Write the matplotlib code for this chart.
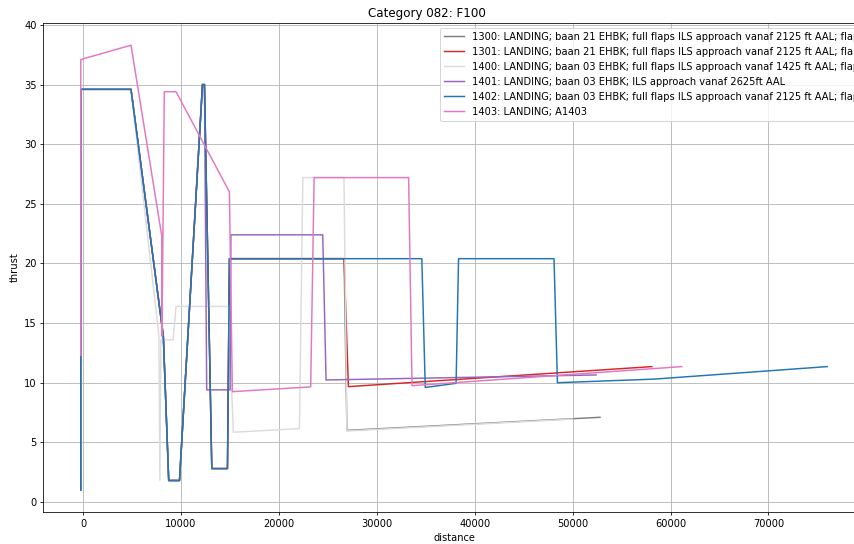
import matplotlib
matplotlib.use("Agg")
import matplotlib.pyplot as plt

# distance / thrust profiles per procedure
labels = [
    "1300: LANDING; baan 21 EHBK; full flaps ILS approach vanaf 2125 ft AAL; flaps",
    "1301: LANDING; baan 21 EHBK; full flaps ILS approach vanaf 2125 ft AAL; flaps",
    "1400: LANDING; baan 03 EHBK; full flaps ILS approach vanaf 1425 ft AAL; flaps",
    "1401: LANDING; baan 03 EHBK; ILS approach vanaf 2625ft AAL",
    "1402: LANDING; baan 03 EHBK; full flaps ILS approach vanaf 2125 ft AAL; flaps",
    "1403: LANDING; A1403",
]
colors = ["tab:gray", "tab:red", "#dcdcdc", "tab:purple", "tab:blue", "tab:pink"]

dist_1300 = [-230, -230, 4900, 8200, 8750, 9850, 12200, 12400, 13150, 14750,
             14950, 26660, 26950, 52800]
thrust_1300 = [1.0, 34.6, 34.6, 13.9, 1.8, 1.8, 35.0, 35.0, 2.8, 2.8,
               20.4, 20.4, 6.0, 7.1]

dist_1301 = [-230, -230, 4900, 8200, 8750, 9850, 12200, 12400, 13150, 14750,
             14950, 26660, 27100, 58100]
thrust_1301 = [1.0, 34.6, 34.6, 13.9, 1.8, 1.8, 35.0, 35.0, 2.8, 2.8,
               20.4, 20.4, 9.67, 11.35]

dist_1400 = [-230, -230, 4900, 7750, 7850, 7950, 9200, 9500, 14850, 15350,
             22100, 22450, 26650, 26950, 50000]
thrust_1400 = [1.0, 34.6, 34.6, 13.9, 1.8, 13.6, 13.6, 16.4, 16.4, 5.85,
               6.15, 27.2, 27.2, 5.95, 6.95]

dist_1401 = [-230, -230, 4900, 8200, 8750, 9850, 12200, 12400, 12630, 15020,
             15100, 24480, 24820, 52400]
thrust_1401 = [1.0, 34.6, 34.6, 13.9, 1.8, 1.8, 35.0, 35.0, 9.4, 9.4,
               22.4, 22.4, 10.23, 10.65]

dist_1402 = [-230, -230, 4900, 8200, 8750, 9850, 12200, 12400, 13150, 14750,
             14950, 34600, 34950, 38100, 38350, 48100, 48450, 58300, 76000]
thrust_1402 = [1.0, 34.6, 34.6, 13.9, 1.8, 1.8, 35.0, 35.0, 2.8, 2.8,
               20.4, 20.4, 9.6, 9.95, 20.4, 20.4, 10.0, 10.3, 11.35]

dist_1403 = [-230, -230, 4900, 8040, 8060, 8300, 9500, 14950, 15250, 23250,
             23600, 33250, 33600, 61150]
thrust_1403 = [12.3, 37.1, 38.3, 22.3, 13.9, 34.4, 34.4, 26.0, 9.25, 9.65,
               27.2, 27.2, 9.75, 11.35]

dists = [dist_1300, dist_1301, dist_1400, dist_1401, dist_1402, dist_1403]
thrusts = [thrust_1300, thrust_1301, thrust_1400, thrust_1401, thrust_1402, thrust_1403]

DPI = 71
fig = plt.figure(figsize=(854 / DPI, 544 / DPI), dpi=DPI)
# the original axes run past the right edge of the picture
ax = fig.add_axes([0.0509, 0.0583, 0.9614, 0.8995])

for d, t, lab, c in zip(dists, thrusts, labels, colors):
    ax.plot(d, t, color=c, label=lab)

ax.set_title("Category 082: F100", x=0.467)
ax.set_xlabel("distance")
ax.set_ylabel("thrust")
ax.grid(True)
ax.legend(loc="upper left", bbox_to_anchor=(440 / 854, 1 - 28 / 544),
          bbox_transform=fig.transFigure, borderaxespad=0)

fig.savefig("out.png", dpi=DPI)
